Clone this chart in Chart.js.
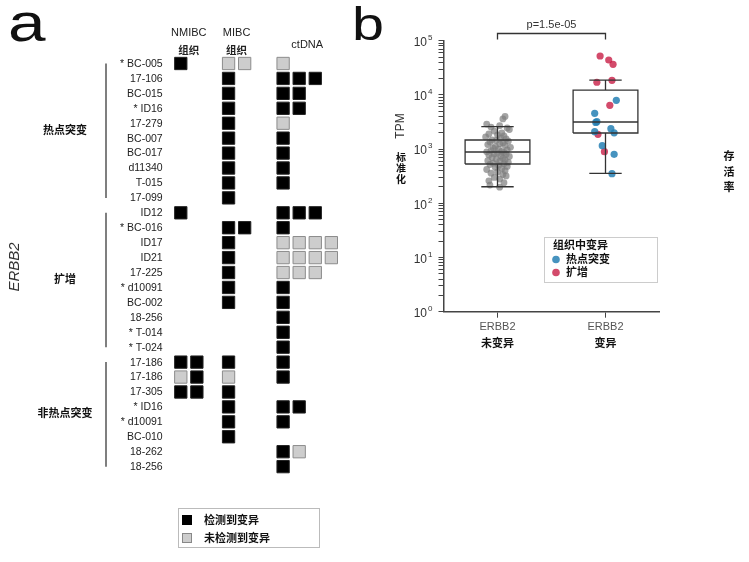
<!DOCTYPE html>
<html>
<head>
<meta charset="utf-8">
<script src="https://cdn.jsdelivr.net/npm/chart.js@4.4.1/dist/chart.umd.min.js"></script>
<style>
  html, body { margin: 0; padding: 0; background: #fff; }
  #wrap { position: relative; width: 749px; height: 562px; }
  canvas { position: absolute; left: 0; top: 0; }
</style>
</head>
<body>
<div id="wrap">
  <canvas id="panelA" width="749" height="562"></canvas>
  <canvas id="panelB" width="749" height="562"></canvas>
</div>
<script>
const FONT = '"Liberation Sans", Arial, "Noto Sans CJK SC", sans-serif';
Chart.defaults.font.family = FONT;

// ---- panel a data ----
const samples = ['BC-005', '17-106', 'BC-015', 'ID16', '17-279', 'BC-007', 'BC-017', 'd11340', 'T-015', '17-099',
  'ID12', 'BC-016', 'ID17', 'ID21', '17-225', 'd10091', 'BC-002', '18-256', 'T-014', 'T-024',
  '17-186', '17-186', '17-305', 'ID16', 'd10091', 'BC-010', '18-262', '18-256'];
const starred = [1, 0, 0, 1, 0, 0, 0, 0, 0, 0,
  0, 1, 0, 0, 0, 1, 0, 0, 1, 1,
  0, 0, 0, 1, 1, 0, 0, 0];
const groupNames = ['热点突变', '扩增', '非热点突变'];
const groupSizes = [10, 10, 8];
const columnNames = ['NMIBC', 'MIBC', 'ctDNA'];
// 1 = 检测到变异, 0 = 未检测到变异
const nmibcTissue = [[1], [], [], [], [], [], [], [], [], [],
  [1], [], [], [], [], [], [], [], [], [],
  [1, 1], [0, 1], [1, 1], [], [], [], [], []];
const mibcTissue = [[0, 0], [1], [1], [1], [1], [1], [1], [1], [1], [1],
  [], [1, 1], [1], [1], [1], [1], [1], [], [], [],
  [1], [0], [1], [1], [1], [1], [], []];
const ctDNA = [[0], [1, 1, 1], [1, 1], [1, 1], [0], [1], [1], [1], [1], [],
  [1, 1, 1], [1], [0, 0, 0, 0], [0, 0, 0, 0], [0, 0, 0], [1], [1], [1], [1], [1],
  [1], [1], [], [1, 1], [1], [], [1, 0], [1]];
const legendA = ['检测到变异', '未检测到变异'];

// ---- panel b data ----
const groupLabels = ['ERBB2', 'ERBB2'];
const groupSubLabels = ['未变异', '变异'];
const q1 = [531, 1982];
const median = [885, 3162];
const q3 = [1472, 12300];
const whiskerLow = [202, 358];
const whiskerHigh = [2590, 18800];
const pValue = 'p=1.5e-05';
const yExponents = [0, 1, 2, 3, 4, 5];

const unmutatedTPM = [4000, 3600, 2900, 2700, 2550, 2450, 2300, 2150, 2000, 1900,
  1820, 1750, 1680, 1600, 1540, 1480, 1450, 1400, 1350, 1300,
  1260, 1210, 1170, 1120, 1080, 1040, 1000, 970, 940, 910,
  890, 870, 850, 820, 800, 780, 750, 730, 700, 680,
  650, 630, 610, 590, 570, 550, 535, 520, 500, 480,
  460, 440, 420, 400, 380, 360, 340, 320, 300, 280,
  260, 240, 217, 198];
const unmutatedJitter = [0.07, 0.05, -0.1, 0.02, -0.06, 0.09, 0.11, -0.03, 0.04, -0.08,
  0.0, 0.06, -0.11, 0.03, 0.08, -0.05, -0.01, 0.1, -0.07, 0.05,
  0.02, -0.09, 0.07, -0.02, 0.12, -0.04, 0.01, 0.09, -0.06, 0.04,
  -0.1, 0.06, 0.0, -0.03, 0.08, -0.08, 0.03, 0.11, -0.05, 0.05,
  -0.01, 0.07, -0.09, 0.02, 0.1, -0.04, 0.06, -0.07, 0.01, 0.09,
  -0.02, 0.04, -0.1, 0.07, 0.0, -0.06, 0.05, 0.08, -0.03, 0.02,
  -0.08, 0.06, -0.07, 0.02];
const mutatedTPM = [52200, 44000, 36700, 17100, 18600, 7940, 6430, 4580, 3100, 3200,
  2100, 1875, 2380, 2000, 1155, 895, 802, 352];
const mutatedType = ['amp', 'amp', 'amp', 'amp', 'amp', 'hot', 'amp', 'hot', 'hot', 'hot',
  'hot', 'amp', 'hot', 'hot', 'hot', 'amp', 'hot', 'hot'];
const mutatedJitter = [-0.05, 0.03, 0.07, -0.08, 0.06, 0.1, 0.04, -0.1, -0.09, -0.08,
  -0.1, -0.07, 0.05, 0.08, -0.03, -0.01, 0.08, 0.06];
const legendTitleB = '组织中变异';
const legendB = { hot: '热点突变', amp: '扩增' };

// ---- styles ----
const BLUE = 'rgba(38,128,180,0.85)';
const RED = 'rgba(200,30,70,0.8)';
const columnStart = [0, 2.97, 6.36];

function panelLetter(ctx, ch, x, y, size) {
  ctx.save();
  ctx.translate(x, y);
  ctx.scale(1.25, 1);
  ctx.font = size + 'px ' + FONT;
  ctx.fillStyle = '#111';
  ctx.textAlign = 'left';
  ctx.textBaseline = 'alphabetic';
  ctx.fillText(ch, 0, 0);
  ctx.restore();
}

// ---------------- panel a ----------------
function cells(code) {
  const out = [];
  [nmibcTissue, mibcTissue, ctDNA].forEach((block, b) => {
    block.forEach((row, r) => {
      row.forEach((v, k) => { if (v === code) out.push({ x: columnStart[b] + k, y: r }); });
    });
  });
  return out;
}

const panelAText = {
  id: 'panelAText',
  afterDraw(chart) {
    const { ctx, chartArea, scales: { x, y } } = chart;
    ctx.save();
    ctx.textBaseline = 'middle';
    // row labels
    ctx.font = '10.5px ' + FONT;
    ctx.fillStyle = '#222';
    ctx.textAlign = 'right';
    samples.forEach((s, i) => {
      ctx.fillText((starred[i] ? '* ' : '') + s, chartArea.left - 2, y.getPixelForValue(i) + 0.5);
    });
    // column headers
    ctx.textAlign = 'center';
    ctx.font = '11px ' + FONT;
    const cN = (x.getPixelForValue(columnStart[0]) + x.getPixelForValue(columnStart[0] + 1)) / 2;
    const cM = (x.getPixelForValue(columnStart[1]) + x.getPixelForValue(columnStart[1] + 1)) / 2;
    const cC = (x.getPixelForValue(columnStart[2]) + x.getPixelForValue(columnStart[2] + 3)) / 2;
    ctx.fillText(columnNames[0], cN, 32.5);
    ctx.fillText(columnNames[1], cM, 32.5);
    ctx.fillText(columnNames[2], cC, 44.5);
    ctx.font = 'bold 10.5px ' + FONT;
    ctx.fillText('组织', cN, 51);
    ctx.fillText('组织', cM, 51);
    // group bars and labels
    let start = 0;
    groupSizes.forEach((n, g) => {
      const y0 = y.getPixelForValue(start), y1 = y.getPixelForValue(start + n - 1);
      ctx.strokeStyle = '#555';
      ctx.lineWidth = 1.5;
      ctx.beginPath();
      ctx.moveTo(106, y0);
      ctx.lineTo(106, y1);
      ctx.stroke();
      ctx.fillStyle = '#111';
      ctx.font = 'bold 11px ' + FONT;
      ctx.fillText(groupNames[g], 65, (y0 + y1) / 2);
      start += n;
    });
    // gene label
    ctx.save();
    ctx.translate(15, 267);
    ctx.rotate(-Math.PI / 2);
    ctx.font = 'italic 15px ' + FONT;
    ctx.fillStyle = '#333';
    ctx.fillText('ERBB2', 0, 0);
    ctx.restore();
    panelLetter(ctx, 'a', 8, 41, 54);
    // legend
    ctx.strokeStyle = '#bbb';
    ctx.lineWidth = 1;
    ctx.strokeRect(178.5, 508.5, 141, 39);
    ctx.fillStyle = '#000';
    ctx.fillRect(182, 515, 10, 10);
    ctx.fillStyle = '#cdcdcd';
    ctx.fillRect(182, 533, 10, 10);
    ctx.strokeStyle = '#888';
    ctx.strokeRect(182.5, 533.5, 9, 9);
    ctx.fillStyle = '#111';
    ctx.font = 'bold 11px ' + FONT;
    ctx.textAlign = 'left';
    ctx.textBaseline = 'middle';
    ctx.fillText(legendA[0], 204, 521);
    ctx.fillText(legendA[1], 204, 539);
    ctx.restore();
  }
};

new Chart(document.getElementById('panelA'), {
  type: 'scatter',
  data: {
    datasets: [
      { data: cells(1), pointStyle: 'rect', pointRadius: 8.7, backgroundColor: '#000', borderColor: '#222', borderWidth: 1 },
      { data: cells(0), pointStyle: 'rect', pointRadius: 8.7, backgroundColor: '#cdcdcd', borderColor: '#8c8c8c', borderWidth: 1 }
    ]
  },
  options: {
    responsive: false,
    animation: false,
    events: [],
    layout: { padding: { left: 164.7, right: 399.3, top: 56.03, bottom: 87.9 } },
    plugins: { legend: { display: false }, tooltip: { enabled: false } },
    scales: {
      x: { type: 'linear', min: -1, max: 10.5, display: false },
      y: { type: 'linear', min: -0.5, max: 27.5, reverse: true, display: false }
    }
  },
  plugins: [panelAText]
});

// ---------------- panel b ----------------
const BOX_HALF = 0.3, CAP_HALF = 0.15;
function boxLines() {
  const pts = [];
  const gap = (x) => pts.push({ x: x, y: null });
  q1.forEach((_, i) => {
    const c = i + 1;
    pts.push({ x: c - BOX_HALF, y: q1[i] }, { x: c + BOX_HALF, y: q1[i] }, { x: c + BOX_HALF, y: q3[i] },
      { x: c - BOX_HALF, y: q3[i] }, { x: c - BOX_HALF, y: q1[i] }); gap(c);
    pts.push({ x: c - BOX_HALF, y: median[i] }, { x: c + BOX_HALF, y: median[i] }); gap(c);
    pts.push({ x: c, y: q3[i] }, { x: c, y: whiskerHigh[i] }); gap(c);
    pts.push({ x: c - CAP_HALF, y: whiskerHigh[i] }, { x: c + CAP_HALF, y: whiskerHigh[i] }); gap(c);
    pts.push({ x: c, y: q1[i] }, { x: c, y: whiskerLow[i] }); gap(c);
    pts.push({ x: c - CAP_HALF, y: whiskerLow[i] }, { x: c + CAP_HALF, y: whiskerLow[i] }); gap(c);
  });
  return pts;
}
function mutatedPoints(type) {
  return mutatedTPM.map((v, i) => ({ x: 2 + mutatedJitter[i], y: v, t: mutatedType[i] }))
    .filter(p => p.t === type);
}

const panelBText = {
  id: 'panelBText',
  afterDraw(chart) {
    const { ctx, scales: { x, y } } = chart;
    ctx.save();
    // y tick labels 10^n
    yExponents.forEach(e => {
      const py = y.getPixelForValue(Math.pow(10, e));
      ctx.fillStyle = '#333';
      ctx.font = '12px ' + FONT;
      ctx.textAlign = 'right';
      ctx.textBaseline = 'middle';
      ctx.fillText('10', 427, py + 2);
      ctx.font = '8px ' + FONT;
      ctx.textAlign = 'left';
      ctx.fillText(String(e), 428, py - 3);
    });
    // second line of x labels
    ctx.fillStyle = '#111';
    ctx.font = 'bold 11px ' + FONT;
    ctx.textAlign = 'center';
    ctx.textBaseline = 'middle';
    groupSubLabels.forEach((s, i) => ctx.fillText(s, x.getPixelForValue(i + 1), 344));
    // y title
    ctx.save();
    ctx.translate(401, 126);
    ctx.rotate(-Math.PI / 2);
    ctx.font = '12px ' + FONT;
    ctx.fillStyle = '#333';
    ctx.fillText('TPM', 0, 0);
    ctx.restore();
    ctx.font = 'bold 10px ' + FONT;
    ctx.fillStyle = '#111';
    ['标', '准', '化'].forEach((ch, i) => ctx.fillText(ch, 401, 158 + i * 11));
    // cut-off label from the next panel
    ctx.font = 'bold 11px ' + FONT;
    ['存', '活', '率'].forEach((ch, i) => ctx.fillText(ch, 729, 157 + i * 15.5));
    // significance bracket
    const xa = x.getPixelForValue(1), xb = x.getPixelForValue(2);
    ctx.strokeStyle = '#333';
    ctx.lineWidth = 1.3;
    ctx.beginPath();
    ctx.moveTo(xa, 39.5); ctx.lineTo(xa, 33.5); ctx.lineTo(xb, 33.5); ctx.lineTo(xb, 39.5);
    ctx.stroke();
    ctx.fillStyle = '#333';
    ctx.font = '11px ' + FONT;
    ctx.fillText(pValue, (xa + xb) / 2, 24.5);
    // legend
    ctx.strokeStyle = '#ccc';
    ctx.lineWidth = 1;
    ctx.strokeRect(544.5, 237.5, 113, 45);
    ctx.textAlign = 'left';
    ctx.fillStyle = '#111';
    ctx.font = 'bold 11px ' + FONT;
    ctx.fillText(legendTitleB, 553, 246);
    [['hot', BLUE, 259.5], ['amp', RED, 272.5]].forEach(([k, col, py]) => {
      ctx.fillStyle = col;
      ctx.beginPath();
      ctx.arc(556, py, 3.8, 0, Math.PI * 2);
      ctx.fill();
      ctx.fillStyle = '#111';
      ctx.fillText(legendB[k], 566, py);
    });
    panelLetter(ctx, 'b', 352, 40, 46);
    ctx.restore();
  }
};

new Chart(document.getElementById('panelB'), {
  type: 'scatter',
  data: {
    datasets: [
      { data: boxLines(), showLine: true, spanGaps: false, borderColor: '#333', borderWidth: 1.3, pointRadius: 0, tension: 0, clip: false },
      { data: unmutatedTPM.map((v, i) => ({ x: 1 + unmutatedJitter[i], y: v })), backgroundColor: 'rgba(125,125,125,0.7)', borderWidth: 0, pointRadius: 3.4 },
      { data: mutatedPoints('hot'), backgroundColor: BLUE, borderWidth: 0, pointRadius: 3.6 },
      { data: mutatedPoints('amp'), backgroundColor: RED, borderWidth: 0, pointRadius: 3.6 }
    ]
  },
  options: {
    responsive: false,
    animation: false,
    events: [],
    layout: { padding: { left: 0, right: 89.5, top: 40.7, bottom: 0 } },
    plugins: { legend: { display: false }, tooltip: { enabled: false } },
    scales: {
      x: {
        type: 'linear', min: 0.5, max: 2.5,
        afterFit: (s) => { s.height = 250.3; },
        afterBuildTicks: (s) => { s.ticks = groupLabels.map((_, i) => ({ value: i + 1 })); },
        ticks: { callback: (v) => groupLabels[v - 1], color: '#555', font: { size: 11 }, padding: 3, autoSkip: false, maxRotation: 0 },
        grid: { drawOnChartArea: false, tickLength: 6, color: '#444' },
        border: { color: '#444', width: 1.5 }
      },
      y: {
        type: 'logarithmic', min: 1, max: 100000,
        afterFit: (s) => { s.width = 443.5; },
        afterBuildTicks: (s) => {
          const t = [];
          yExponents.forEach(e => {
            const base = Math.pow(10, e);
            t.push({ value: base, major: true });
            if (e < 5) for (let m = 2; m <= 9; m++) t.push({ value: m * base });
          });
          s.ticks = t;
        },
        ticks: { display: false, autoSkip: false },
        grid: { drawOnChartArea: false, tickLength: 5, color: '#444' },
        border: { color: '#444', width: 1.5 }
      }
    }
  },
  plugins: [panelBText]
});
</script>
</body>
</html>
